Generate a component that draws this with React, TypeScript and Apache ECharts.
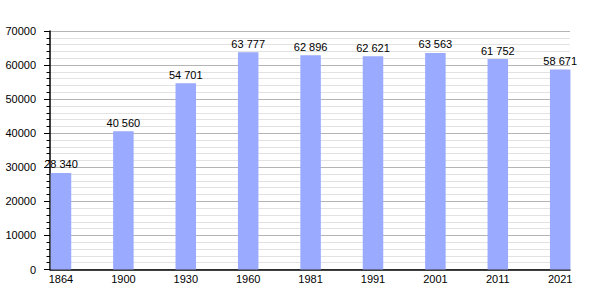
import React, { useEffect, useRef } from "react";
import * as echarts from "echarts";

const years = ["1864", "1900", "1930", "1960", "1981", "1991", "2001", "2011", "2021"];
const population = [28340, 40560, 54701, 63777, 62896, 62621, 63563, 61752, 58671];
const yTicks = [0, 10000, 20000, 30000, 40000, 50000, 60000, 70000];

const fmt = (v: number) => String(v).replace(/\B(?=(\d{3})+(?!\d))/g, " ");
const FONT = "'Liberation Sans', Arial, sans-serif";

export default function App() {
  const ref = useRef<HTMLDivElement>(null);
  useEffect(() => {
    if (!ref.current) return;
    const chart = echarts.init(ref.current, undefined, { renderer: "svg" });
    chart.setOption({
      animation: false,
      backgroundColor: "#ffffff",
      grid: { left: 50, right: 30, top: 31, bottom: 30.5, containLabel: false },
      xAxis: {
        type: "value",
        min: -0.176,
        max: 8.157,
        axisLine: { show: true, onZero: false, lineStyle: { color: "#000", width: 1.5 } },
        axisTick: { show: false },
        splitLine: { show: false },
        axisLabel: {
          customValues: years.map((_, i) => i),
          formatter: (v: number) => years[Math.round(v)] ?? "",
          color: "#000",
          fontSize: 11,
          fontFamily: FONT,
          margin: 4,
        },
      },
      yAxis: {
        type: "value",
        min: yTicks[0],
        max: yTicks[yTicks.length - 1],
        interval: yTicks[1] - yTicks[0],
        axisLine: { show: true, onZero: false, lineStyle: { color: "#000", width: 1.5 } },
        axisTick: { show: true, length: 6, lineStyle: { color: "#000" } },
        minorTick: { show: true, splitNumber: 5, length: 3.5, lineStyle: { color: "#000" } },
        splitLine: { show: true, lineStyle: { color: "#b4b4b4", width: 1 } },
        minorSplitLine: { show: true, lineStyle: { color: "#e2e2e2", width: 1 } },
        axisLabel: {
          color: "#000",
          fontSize: 11,
          fontFamily: FONT,
          margin: 14,
          formatter: (v: number) => String(v),
        },
      },
      series: [
        {
          type: "bar",
          data: population.map((v, i) => [i, v]),
          barWidth: 20.5,
          clip: false,
          itemStyle: { color: "#99aaff" },
          label: {
            show: true,
            position: "top",
            distance: 3,
            color: "#000",
            fontSize: 11,
            fontFamily: FONT,
            formatter: (p: any) => fmt(p.value[1]),
          },
        },
      ],
    });
    return () => chart.dispose();
  }, []);
  return (
    <div
      ref={ref}
      style={{ position: "absolute", left: 0, top: 0, width: 600, height: 300 }}
    />
  );
}
